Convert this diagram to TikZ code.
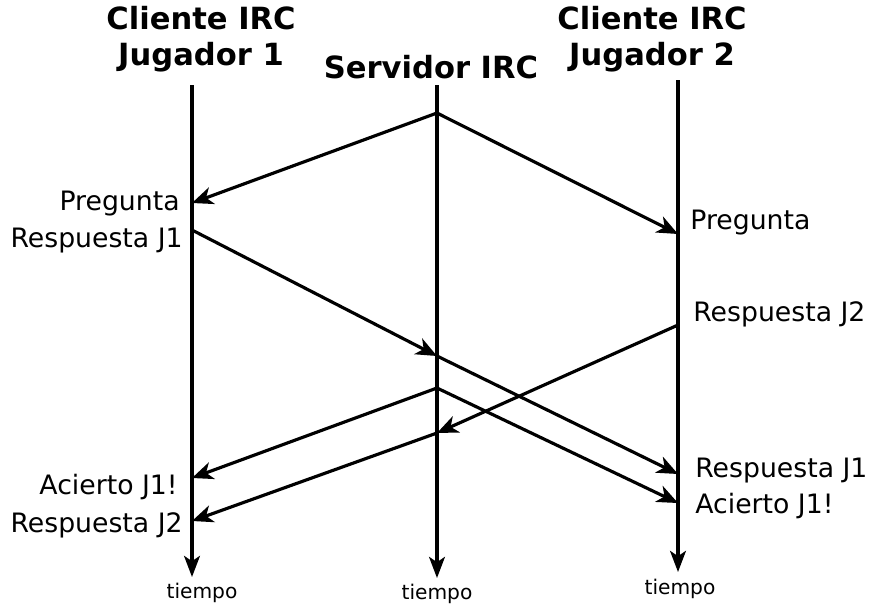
\documentclass[tikz,border=0pt]{standalone}
\usepackage{fontspec}
\setmainfont{DejaVu Sans}
\usetikzlibrary{arrows.meta}
\tikzset{
    life-line/.style = {line width=1.8pt, -{Stealth[length=12pt, width=9pt, inset=3pt]}},
    msg-arrow/.style = {line width=1.8pt, -{Stealth[length=12pt, width=10pt, inset=3.5pt]}},
    head-title/.style = {font=\fontsize{17.4}{20.5}\selectfont\bfseries, align=center, inner sep=0pt},
    event-left/.style = {font=\fontsize{15.2}{18}\selectfont, anchor=base east, inner sep=0pt},
    event-right/.style = {font=\fontsize{15.2}{18}\selectfont, anchor=base west, inner sep=0pt},
    time-label/.style = {font=\fontsize{11.5}{13}\selectfont, anchor=base, inner sep=0pt},
}

\begin{document}
\begin{tikzpicture}[x=0.02cm, y=-0.02cm]
\useasboundingbox (0,0) rectangle (869,603);

% cabeceras
\node[head-title, anchor=south] (head-j1) at (201,72) {Cliente IRC\\Jugador 1};
\node[head-title, anchor=base] (head-srv) at (431,78) {Servidor IRC};
\node[head-title, anchor=south] (head-j2) at (652,72) {Cliente IRC\\Jugador 2};

% lineas de tiempo
\coordinate (j1-top) at (192,85);
\coordinate (srv-top) at (437,85);
\coordinate (j2-top) at (678,80);
\coordinate (j1-end) at (192,577);
\coordinate (srv-end) at (437,578);
\coordinate (j2-end) at (678,572);
\draw[life-line] (j1-top) -- (j1-end);
\draw[life-line] (srv-top) -- (srv-end);
\draw[life-line] (j2-top) -- (j2-end);
\node[time-label] (time-j1) at (202,598) {tiempo};
\node[time-label] (time-srv) at (437,599) {tiempo};
\node[time-label] (time-j2) at (680,594) {tiempo};

% eventos
\coordinate (srv-q) at (437,113);
\coordinate (j1-q) at (192,203);
\coordinate (j2-q) at (678,234);
\coordinate (j1-r1) at (192,230);
\coordinate (srv-r1) at (437,356);
\coordinate (j2-r1) at (678,474);
\coordinate (j2-r2) at (678,325);
\coordinate (srv-r2) at (437,433);
\coordinate (j1-r2) at (192,521);
\coordinate (srv-ok) at (437,388);
\coordinate (j1-ok) at (192,478);
\coordinate (j2-ok) at (678,503);

\draw[msg-arrow] (srv-q) -- (j1-q);
\draw[msg-arrow] (srv-q) -- (j2-q);
\draw[msg-arrow] (j1-r1) -- (srv-r1);
\draw[msg-arrow] (srv-r1) -- (j2-r1);
\draw[msg-arrow] (j2-r2) -- (srv-r2);
\draw[msg-arrow] (srv-r2) -- (j1-r2);
\draw[msg-arrow] (srv-ok) -- (j1-ok);
\draw[msg-arrow] (srv-ok) -- (j2-ok);

% etiquetas
\node[event-left] (lbl-j1-q) at (180,210) {Pregunta};
\node[event-left] (lbl-j1-r1) at (183,247) {Respuesta J1};
\node[event-left] (lbl-j1-ok) at (178,494) {Acierto J1!};
\node[event-left] (lbl-j1-r2) at (183,532) {Respuesta J2};
\node[event-right] (lbl-j2-q) at (690,229) {Pregunta};
\node[event-right] (lbl-j2-r2) at (693,321) {Respuesta J2};
\node[event-right] (lbl-j2-r1) at (695,477) {Respuesta J1};
\node[event-right] (lbl-j2-ok) at (695,513) {Acierto J1!};
\end{tikzpicture}
\end{document}
